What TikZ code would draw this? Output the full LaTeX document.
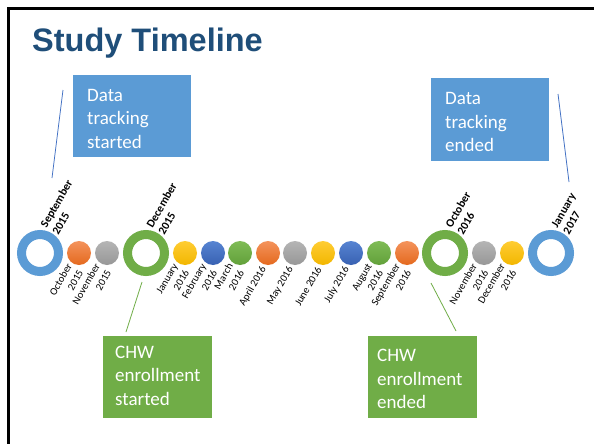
\documentclass[tikz,border=0pt]{standalone}
\usepackage{fontspec}
\newfontfamily\carlito{Carlito}
\newfontfamily\titlefont{Liberation Sans}
\usetikzlibrary{calc}
\definecolor{titleblue}{HTML}{1F4E79}
\definecolor{boxblue}{HTML}{5B9BD5}
\definecolor{boxgreen}{HTML}{70AD47}
\definecolor{lineblue}{HTML}{4472C4}
\definecolor{orgT}{HTML}{F4935C}\definecolor{orgB}{HTML}{E4691E}
\definecolor{gryT}{HTML}{B5B5B5}\definecolor{gryB}{HTML}{979797}
\definecolor{yelT}{HTML}{FFCD33}\definecolor{yelB}{HTML}{F2B600}
\definecolor{bluT}{HTML}{5784D2}\definecolor{bluB}{HTML}{3861B2}
\definecolor{grnT}{HTML}{7FBC56}\definecolor{grnB}{HTML}{62A03A}
\definecolor{rblue}{HTML}{5B9BD5}
\tikzset{
  dot/.style={circle, inner sep=0pt, minimum size=24pt},
  orangedot/.style={dot, top color=orgT, bottom color=orgB},
  graydot/.style={dot, top color=gryT, bottom color=gryB},
  yellowdot/.style={dot, top color=yelT, bottom color=yelB},
  bluedot/.style={dot, top color=bluT, bottom color=bluB},
  greendot/.style={dot, top color=grnT, bottom color=grnB},
  ring/.style={circle, inner sep=0pt, minimum size=37pt, line width=9pt, fill=white},
  bluering/.style={ring, draw=rblue},
  greenring/.style={ring, draw=boxgreen},
  lab/.style={rotate=60, anchor=east, align=right, inner sep=0pt,
    font=\carlito\fontsize{10.5}{13}\selectfont},
  blab/.style={rotate=60, anchor=west, align=left, inner sep=0pt,
    font=\carlito\bfseries\fontsize{11.5}{13.5}\selectfont},
  callbox/.style={anchor=north west, text=white, align=left, inner ysep=0pt,
    font=\carlito\fontsize{19}{23.5}\selectfont},
  bluebox/.style={callbox, fill=boxblue},
  greenbox/.style={callbox, fill=boxgreen},
  blueline/.style={draw=lineblue, line width=0.8pt},
  greenline/.style={draw=boxgreen, line width=0.8pt},
}
\begin{document}
\begin{tikzpicture}[x=1pt,y=-1pt]
\useasboundingbox (0,0) rectangle (594,444);
\fill[white] (0,0) rectangle (594,444);
% frame
\draw[line width=2.6pt] (8.5,444) -- (8.5,8.5) -- (594,8.5);
% title
\node[anchor=base west, inner sep=0pt, text=titleblue,
  font=\titlefont\bfseries\fontsize{32.5}{36}\selectfont] (title) at (32,52) {Study Timeline};

% timeline
\node[bluering]   (sep15) at (40,253) {};
\node[orangedot]  (oct15) at (79,253) {};
\node[graydot]    (nov15) at (107,253) {};
\node[greenring]  (dec15) at (146,253) {};
\node[yellowdot]  (jan16) at (185,253) {};
\node[bluedot]    (feb16) at (213,253) {};
\node[greendot]   (mar16) at (240,253) {};
\node[orangedot]  (apr16) at (268,253) {};
\node[graydot]    (may16) at (295,253) {};
\node[yellowdot]  (jun16) at (323,253) {};
\node[bluedot]    (jul16) at (351,253) {};
\node[greendot]   (aug16) at (379,253) {};
\node[orangedot]  (sep16) at (407,253) {};
\node[greenring]  (oct16) at (445,253) {};
\node[graydot]    (nov16) at (484,253) {};
\node[yellowdot]  (dec16) at (512,253) {};
\node[bluering]   (jan17) at (551,253) {};

% bold labels above rings
\node[blab] (lsep15) at ($(sep15)+(9,-23)$) {September\\2015};
\node[blab] (ldec15) at ($(dec15)+(9,-23)$) {December\\2015};
\node[blab] (loct16) at ($(oct16)+(9,-23)$) {October\\2016};
\node[blab] (ljan17) at ($(jan17)+(9,-23)$) {January\\2017};

% small labels below dots
\node[lab] (loct15) at ($(oct15)+(-4,14.5)$) {October\\2015};
\node[lab] (lnov15) at ($(nov15)+(-4,14.5)$) {November\\2015};
\node[lab] (ljan16) at ($(jan16)+(-4,14.5)$) {January\\2016};
\node[lab] (lfeb16) at ($(feb16)+(-4,14.5)$) {February\\2016};
\node[lab] (lmar16) at ($(mar16)+(-4,14.5)$) {March\\2016};
\node[lab] (lapr16) at ($(apr16)+(-4,14.5)$) {April 2016};
\node[lab] (lmay16) at ($(may16)+(-4,14.5)$) {May 2016};
\node[lab] (ljun16) at ($(jun16)+(-4,14.5)$) {June 2016};
\node[lab] (ljul16) at ($(jul16)+(-4,14.5)$) {July 2016};
\node[lab] (laug16) at ($(aug16)+(-4,14.5)$) {August\\2016};
\node[lab] (lsep16) at ($(sep16)+(-4,14.5)$) {September\\2016};
\node[lab] (lnov16) at ($(nov16)+(-4,14.5)$) {November\\2016};
\node[lab] (ldec16) at ($(dec16)+(-4,14.5)$) {December\\2016};

% callout boxes
\node[bluebox, minimum width=118pt, minimum height=82pt, inner xsep=14pt, text width=90pt]
  (dtstart) at (73,75) {\rule{0pt}{22pt}Data\\tracking\\started\rule[-5pt]{0pt}{5pt}};
\node[bluebox, minimum width=118pt, minimum height=83pt, inner xsep=14pt, text width=90pt]
  (dtend) at (431,78) {\rule{0pt}{22pt}Data\\tracking\\ended\rule[-5pt]{0pt}{5pt}};
\node[greenbox, minimum width=109pt, minimum height=82pt, inner xsep=12pt, text width=85pt]
  (chwstart) at (103,336) {\rule{0pt}{18pt}CHW\\enrollment\\started\rule[-9pt]{0pt}{9pt}};
\node[greenbox, minimum width=109pt, minimum height=82pt, inner xsep=9pt, text width=91pt]
  (chwend) at (368,336) {\rule{0pt}{22pt}CHW\\enrollment\\ended\rule[-6pt]{0pt}{6pt}};

% callout lines
\coordinate (a1) at (63,90);   \coordinate (a2) at (52,178);
\coordinate (b1) at (558,94);  \coordinate (b2) at (569,182);
\coordinate (c1) at (142,282); \coordinate (c2) at (126,332);
\coordinate (d1) at (431,283); \coordinate (d2) at (456,331);
\draw[blueline] (a1) -- (a2);
\draw[blueline] (b1) -- (b2);
\draw[greenline] (c1) -- (c2);
\draw[greenline] (d1) -- (d2);
\end{tikzpicture}
\end{document}
